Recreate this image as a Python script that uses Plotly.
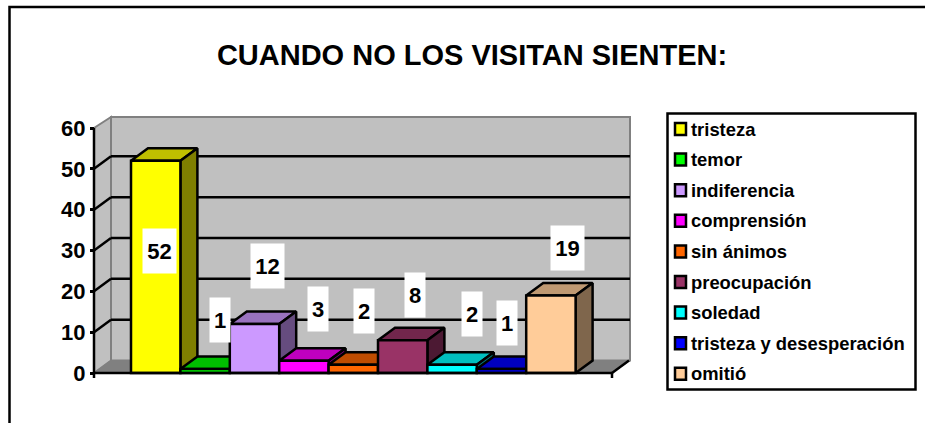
import plotly.graph_objects as go

# Data
categories = ["tristeza", "temor", "indiferencia", "comprensión", "sin ánimos",
              "preocupación", "soledad", "tristeza y desesperación", "omitió"]
values = [52, 1, 12, 3, 2, 8, 2, 1, 19]
colors = ["#FFFF00", "#00FF00", "#CC99FF", "#FF00FF", "#FF6600",
          "#993366", "#00FFFF", "#0000FF", "#FFCC99"]
y_ticks = [0, 10, 20, 30, 40, 50, 60]

# Floating value labels, pixel centres in the picture
label_px = [159.5, 220, 267.5, 318, 364, 415, 472, 507, 567.5]
label_py = [251, 320, 266, 309, 311, 295, 314, 323, 248]

FONT = "Liberation Sans"
W, H = 925, 423
PLOT_L, PLOT_R, PLOT_T, PLOT_B = 80, 635, 110, 380
LINE = 2.5

# pixel scale of the axes
BAR_PX = 49.4
UNIT_PX = 4.083
BAR0_PX = 131
ZERO_PY = 373


def to_x(px):
    return (px - BAR0_PX) / BAR_PX


def to_y(py):
    return (ZERO_PY - py) / UNIT_PX


def paper_x(px):
    return (px - PLOT_L) / (PLOT_R - PLOT_L)


def paper_y(py):
    return (PLOT_B - py) / (PLOT_B - PLOT_T)


def shade(hex_color, k):
    r, g, b = [int(hex_color[i:i + 2], 16) for i in (1, 3, 5)]
    return f"rgb({int(r * k)},{int(g * k)},{int(b * k)})"


DX = 17 / BAR_PX
DY = 12.5 / UNIT_PX
X0 = to_x(94)
X1 = to_x(612)
WALL_TOP = to_y(117)
y_range = [to_y(PLOT_B), to_y(PLOT_T)]
y_max = y_ticks[-1]

fig = go.Figure()

# Depth faces first, left to right
for i, (v, c) in enumerate(zip(values, colors)):
    fig.add_trace(go.Scatter(
        x=[i, i + DX, i + 1 + DX, i + 1, i],
        y=[v, v + DY, v + DY, v, v],
        mode="lines", fill="toself", fillcolor=shade(c, 0.75),
        line=dict(color="black", width=LINE), showlegend=False, hoverinfo="skip"
    ))
    fig.add_trace(go.Scatter(
        x=[i + 1, i + 1 + DX, i + 1 + DX, i + 1, i + 1],
        y=[v, v + DY, DY, 0, v],
        mode="lines", fill="toself", fillcolor=shade(c, 0.5),
        line=dict(color="black", width=LINE), showlegend=False, hoverinfo="skip"
    ))

# Front faces on the overlay axis so they sit above the depth faces
for i, (name, v, c) in enumerate(zip(categories, values, colors)):
    fig.add_trace(go.Bar(
        x=[i + 0.5], y=[v], width=1, name=name, yaxis="y2",
        marker=dict(color=c, line=dict(color="black", width=LINE)),
        showlegend=False
    ))

shapes = []
# Walls and floor
shapes.append(dict(type="rect", xref="x", yref="y", layer="below",
                   x0=X0 + DX, x1=to_x(630), y0=DY, y1=WALL_TOP,
                   fillcolor="#C0C0C0", line=dict(color="#808080", width=2)))
shapes.append(dict(type="path", xref="x", yref="y", layer="below",
                   path=f"M{X0},0 L{X0 + DX},{DY} L{X0 + DX},{WALL_TOP} L{X0},{y_max} Z",
                   fillcolor="#C0C0C0", line=dict(color="#808080", width=2)))
shapes.append(dict(type="path", xref="x", yref="y", layer="below",
                   path=f"M{X0},0 L{X0 + DX},{DY} L{to_x(630)},{DY} L{X1},0 Z",
                   fillcolor="#808080", line=dict(color="#808080", width=1)))
# Gridlines with their connectors to the axis
for t in y_ticks[1:-1]:
    shapes.append(dict(type="line", xref="x", yref="y", layer="below",
                       x0=X0 + DX, x1=to_x(630), y0=t + DY, y1=t + DY,
                       line=dict(color="black", width=LINE)))
    shapes.append(dict(type="line", xref="x", yref="y", layer="below",
                       x0=X0, x1=X0 + DX, y0=t, y1=t + DY,
                       line=dict(color="black", width=LINE)))
# Axis lines
shapes.append(dict(type="line", xref="x", yref="y", x0=X0, x1=X0, y0=0, y1=y_max,
                   line=dict(color="black", width=LINE), layer="below"))
shapes.append(dict(type="line", xref="x", yref="y", x0=X0, x1=X1, y0=0, y1=0,
                   line=dict(color="black", width=LINE)))
for xt in (X0, X1):
    shapes.append(dict(type="line", xref="x", yref="y", x0=xt, x1=xt, y0=0, y1=to_y(378),
                       line=dict(color="black", width=LINE)))
shapes.append(dict(type="line", xref="x", yref="y", x0=X1, x1=X1 + DX, y0=0, y1=DY,
                   line=dict(color="black", width=LINE), layer="below"))

# Chart frame, cut by the picture edges
shapes.append(dict(type="path", xref="paper", yref="paper",
                   path=f"M{paper_x(9.5)},{paper_y(H)} L{paper_x(9.5)},{paper_y(7)} L{paper_x(W)},{paper_y(7)}",
                   line=dict(color="black", width=2.5)))
# Legend box
shapes.append(dict(type="rect", xref="paper", yref="paper",
                   x0=paper_x(667.5), x1=paper_x(915.5), y0=paper_y(113.5), y1=paper_y(389.5),
                   fillcolor="white", line=dict(color="black", width=2.5)))

annotations = []
for i, (name, c) in enumerate(zip(categories, colors)):
    row_y = 129 + i * 30.6
    shapes.append(dict(type="rect", xref="paper", yref="paper",
                       x0=paper_x(675), x1=paper_x(686), y0=paper_y(row_y - 6), y1=paper_y(row_y + 6),
                       fillcolor=c, line=dict(color="black", width=2.5)))
    annotations.append(dict(xref="paper", yref="paper", x=paper_x(689), y=paper_y(row_y),
                            text=name, showarrow=False, xanchor="left", yanchor="middle",
                            font=dict(family=FONT, size=18.4, color="black", weight="bold")))

for v, px, py in zip(values, label_px, label_py):
    annotations.append(dict(xref="x", yref="y", x=to_x(px), y=to_y(py),
                            text=str(v), showarrow=False, bgcolor="white",
                            width=33 if v >= 10 else 20, height=44, borderpad=0,
                            font=dict(family=FONT, size=22, color="black", weight="bold")))

fig.update_layout(
    width=W, height=H,
    margin=dict(l=PLOT_L, r=W - PLOT_R, t=PLOT_T, b=H - PLOT_B, autoexpand=False),
    paper_bgcolor="white", plot_bgcolor="white",
    showlegend=False,
    title=dict(text="CUANDO NO LOS VISITAN SIENTEN:", x=472 / W, y=1 - 55 / H,
               xanchor="center", yanchor="middle", xref="container", yref="container",
               font=dict(family=FONT, size=29, color="black", weight="bold")),
    xaxis=dict(range=[to_x(PLOT_L), to_x(PLOT_R)], visible=False, domain=[0, 1]),
    yaxis=dict(range=y_range, tickvals=y_ticks, ticks="outside", ticklen=4, tickwidth=2.5,
               tickcolor="black", showgrid=False, zeroline=False, showline=False,
               anchor="free", position=paper_x(94),
               tickfont=dict(family=FONT, size=22, color="black", weight="bold")),
    yaxis2=dict(range=y_range, overlaying="y", visible=False),
    shapes=shapes,
    annotations=annotations,
)

# the page's default body margin would push the figure off the window
fig.write_html("out.html", config=dict(displayModeBar=False),
               post_script="document.body.style.margin='0';")
